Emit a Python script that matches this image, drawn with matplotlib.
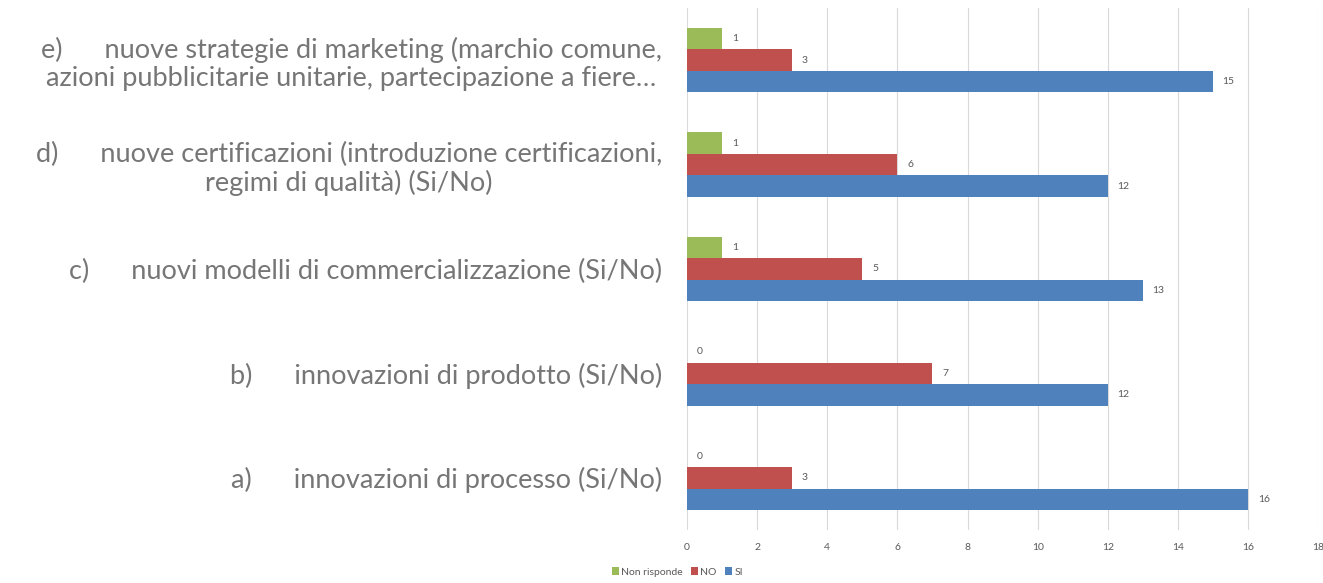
import numpy as np
import matplotlib.pyplot as plt

# categorie dal basso verso l'alto
categorie = [
    "a)      innovazioni di processo (Si/No)",
    "b)      innovazioni di prodotto (Si/No)",
    "c)      nuovi modelli di commercializzazione (Si/No)",
    "d)      nuove certificazioni (introduzione certificazioni,\nregimi di qualità) (Si/No)",
    "e)      nuove strategie di marketing (marchio comune,\nazioni pubblicitarie unitarie, partecipazione a fiere…",
]
si = [16, 12, 13, 12, 15]
no = [3, 7, 5, 6, 3]
non_risponde = [0, 0, 1, 1, 1]
xticks = list(range(0, 19, 2))

col_si = "#4F81BD"
col_no = "#C0504D"
col_nr = "#9BBB59"
grigio = "#595959"

plt.rcParams['font.family'] = ['Lato', 'DejaVu Sans']

fig = plt.figure(figsize=(13.23, 5.83), dpi=100)
ax = fig.add_axes([0.5193, 0.0909, 0.477, 0.8954])

y = np.arange(len(categorie))
h = 0.206

b_nr = ax.barh(y + h, non_risponde, height=h, color=col_nr, label="Non risponde")
b_no = ax.barh(y, no, height=h, color=col_no, label="NO")
b_si = ax.barh(y - h, si, height=h, color=col_si, label="SI")

for bars in (b_nr, b_no, b_si):
    ax.bar_label(bars, padding=7, fontsize=7.5, color=grigio)

ax.set_xlim(0, 18)
ax.set_ylim(-0.5, len(categorie) - 0.5)
ax.set_xticks(xticks)
ax.set_xticklabels([str(t) for t in xticks], fontsize=7.5, color=grigio)
ax.set_yticks(y)
ax.set_yticklabels(categorie, fontsize=19.5, color="#767676", multialignment="center",
                   linespacing=1.15)
ax.tick_params(axis="both", length=0)
ax.tick_params(axis="x", pad=9)
ax.tick_params(axis="y", pad=18)
ax.grid(axis="x", color="#D9D9D9", linewidth=0.8)
ax.set_axisbelow(True)
for s in ax.spines.values():
    s.set_visible(False)

handles = [b_nr, b_no, b_si]
fig.legend(handles, [hd.get_label() for hd in handles], loc="lower center",
           bbox_to_anchor=(0.512, -0.005), ncol=3, frameon=False, fontsize=7.5,
           handlelength=0.7, handleheight=0.7, handletextpad=0.2, columnspacing=0.8,
           labelcolor=grigio)

fig.savefig("out.png", dpi=100)
